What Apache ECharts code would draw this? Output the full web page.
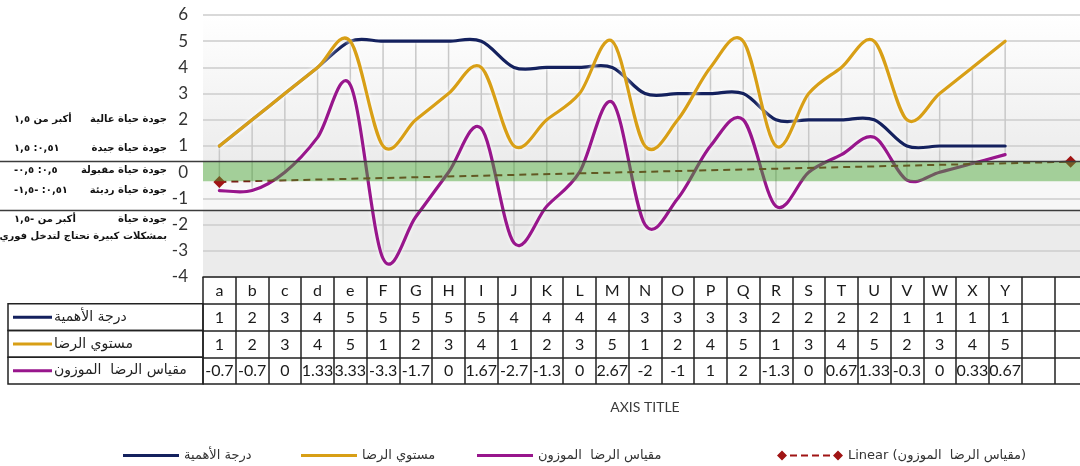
<!DOCTYPE html>
<html>
<head>
<meta charset="utf-8">
<script src="https://cdn.jsdelivr.net/npm/echarts@6/dist/echarts.min.js"></script>
<style>
html,body{margin:0;padding:0;background:#ffffff;}
#chart{width:1080px;height:466px;}
</style>
</head>
<body>
<div id="chart"></div>
<script>
// ---------------- data ----------------
const categories = ['a','b','c','d','e','F','G','H','I','J','K','L','M','N','O','P','Q','R','S','T','U','V','W','X','Y','',''];
const importance = [1,2,3,4,5,5,5,5,5,4,4,4,4,3,3,3,3,2,2,2,2,1,1,1,1];
const satisfaction = [1,2,3,4,5,1,2,3,4,1,2,3,5,1,2,4,5,1,3,4,5,2,3,4,5];
const weighted = [-0.7,-0.7,0,1.33,3.33,-3.3,-1.7,0,1.67,-2.7,-1.3,0,2.67,-2,-1,1,2,-1.3,0,0.67,1.33,-0.3,0,0.33,0.67];
const trendIndex = [0, 26];
const trendValue = [-0.37, 0.40];
const seriesNames = ['درجة الأهمية', 'مستوي الرضا', 'مقياس الرضا  الموزون', 'Linear (مقياس الرضا  الموزون)'];
const yMin = -4, yMax = 6, yStep = 1;
const bandTop = 0.41, bandBottom = -0.35, lowerLine = -1.45;
const qualityLabels = [
  {y: 2, name: 'جودة حياة عالية', range: 'أكبر من ١,٥'},
  {y: 0.9, name: 'جودة حياة جيدة', range: '٠,٥١: ١,٥'},
  {y: 0.08, name: 'جودة حياة مقبولة', range: '-٠,٥: ٠,٥'},
  {y: -0.7, name: 'جودة حياة رديئة', range: '-٠,٥١: -١,٥'},
  {y: -1.8, name: 'جودة حياة', range: 'أكبر من -١,٥'}
];
const qualityNote = 'بمشكلات كبيرة تحتاج لتدخل فوري';
const axisTitle = 'AXIS TITLE';

// ---------------- styles ----------------
const colors = ['#14215e', '#d89f16', '#98168c', '#7c1212'];
const latin = 'Lato, "Open Sans", "DejaVu Sans", sans-serif';
const arabic = '"DejaVu Sans", "Noto Sans", sans-serif';
const gridLeft = 203, gridTop = 15, gridW = 884, gridH = 262;
const rowH = 26.75;
const trendIcon = 'path://M0,5L5,0L10,5L5,10Z M13,4h7v2h-7Z M24,4h7v2h-7Z M35,4h7v2h-7Z M46,4h7v2h-7Z M56,5L61,0L66,5L61,10Z';

const chart = echarts.init(document.getElementById('chart'), null, {renderer: 'canvas'});

function pad(arr){ const a = arr.map(v => String(v)); while (a.length < categories.length) a.push(''); return a; }

function tableAxis(data, idx, showLabel) {
  return {
    type: 'category', gridIndex: 0, position: 'bottom', data: data,
    offset: idx * rowH, boundaryGap: true,
    axisLine: {show: true, onZero: false, lineStyle: {color: '#222', width: 1.5}},
    axisTick: {show: showLabel, interval: 0, length: rowH, inside: false, lineStyle: {color: '#222', width: 1.5}},
    axisLabel: {show: showLabel, interval: 0, margin: 6, fontSize: 16, color: '#1a1a1a', fontFamily: latin, hideOverlap: false},
    splitLine: {show: false}
  };
}

// Excel-like smoothed curve (Catmull-Rom / Bezier) through the data points, positioned by the axes
function smoothCurve(values, color) {
  return function (params, api) {
    if (params.dataIndex !== 0) return null;
    const pts = values.map((v, i) => api.coord([i, v]));
    let d = 'M' + pts[0][0] + ' ' + pts[0][1];
    for (let i = 0; i < pts.length - 1; i++) {
      const p0 = pts[Math.max(i - 1, 0)], p1 = pts[i], p2 = pts[i + 1], p3 = pts[Math.min(i + 2, pts.length - 1)];
      const c1x = p1[0] + (p2[0] - p0[0]) / 6, c1y = p1[1] + (p2[1] - p0[1]) / 6;
      const c2x = p2[0] - (p3[0] - p1[0]) / 6, c2y = p2[1] - (p3[1] - p1[1]) / 6;
      d += ' C' + c1x + ' ' + c1y + ' ' + c2x + ' ' + c2y + ' ' + p2[0] + ' ' + p2[1];
    }
    return {
      type: 'path', shape: {pathData: d},
      style: {fill: null, stroke: color, lineWidth: 3.2, lineJoin: 'round', lineCap: 'round',
              shadowColor: 'rgba(255,255,255,1)', shadowBlur: 4}
    };
  };
}

const hiLo = importance.map((v, i) => [i, Math.max(v, satisfaction[i], weighted[i]), Math.min(v, satisfaction[i], weighted[i])]);

const splitColors = [];
for (let v = yMin; v <= yMax; v += yStep) splitColors.push(v === 0 ? 'rgba(0,0,0,0)' : '#cdcdcd');

function curveSeries(idx, values, z, extra) {
  return Object.assign({
    type: 'custom', name: seriesNames[idx], z: z, silent: true,
    data: values.map((v, i) => [i, v]), encode: {x: 0, y: 1},
    itemStyle: {color: colors[idx]},
    renderItem: smoothCurve(values, colors[idx])
  }, extra || {});
}

const option = {
  animation: false,
  backgroundColor: '#ffffff',
  grid: {left: gridLeft, top: gridTop, width: gridW, height: gridH, containLabel: false, outerBoundsMode: 'none'},
  xAxis: [
    tableAxis(categories, 0, true),
    tableAxis(pad(importance), 1, true),
    tableAxis(pad(satisfaction), 2, true),
    tableAxis(pad(weighted), 3, true),
    Object.assign(tableAxis(pad([]), 4, false), {
      name: axisTitle, nameLocation: 'middle', nameGap: 16,
      nameTextStyle: {fontSize: 14, color: '#3a3a3a', fontFamily: latin}
    })
  ],
  yAxis: {
    type: 'value', min: yMin, max: yMax, interval: yStep,
    axisLine: {show: false}, axisTick: {show: false},
    axisLabel: {fontSize: 17, color: '#333', margin: 15, fontFamily: latin},
    splitLine: {show: true, lineStyle: {color: splitColors, width: 1.5}}
  },
  legend: seriesNames.map((n, i) => ({
    data: [{name: n, icon: i < 3 ? 'rect' : trendIcon}], left: [118, 296, 472, 772][i], top: 444,
    itemWidth: i < 3 ? 56 : 66, itemHeight: i < 3 ? 3 : 10, itemGap: 0,
    textStyle: {fontSize: 13, color: '#333', fontFamily: arabic}
  })),
  series: [
    {
      type: 'custom', name: 'hilo', z: 1, silent: true,
      data: hiLo, encode: {x: 0, y: [1, 2]},
      renderItem: function (params, api) {
        const i = api.value(0);
        const p1 = api.coord([i, api.value(1)]);
        const p2 = api.coord([i, api.value(2)]);
        return {type: 'line', shape: {x1: p1[0], y1: p1[1], x2: p2[0], y2: p2[1]},
                style: {stroke: '#c8c8c8', lineWidth: 1.5}};
      },
      markArea: {
        silent: true, z: -1,
        data: [
          [{yAxis: yMax, itemStyle: {color: new echarts.graphic.LinearGradient(0, 0, 0, 1, [
              {offset: 0, color: '#ffffff'}, {offset: 1, color: '#ececec'}])}}, {yAxis: bandTop}],
          [{yAxis: bandBottom, itemStyle: {color: '#f7f7f7'}}, {yAxis: lowerLine}],
          [{yAxis: lowerLine, itemStyle: {color: '#ebebeb'}}, {yAxis: yMin}]
        ]
      }
    },
    curveSeries(0, importance, 3),
    curveSeries(1, satisfaction, 4),
    curveSeries(2, weighted, 5, {
      markArea: {
        silent: true, z: 8,
        itemStyle: {color: 'rgba(72,160,52,0.5)'},
        data: [[{yAxis: bandTop}, {yAxis: bandBottom}]]
      }
    }),
    {
      type: 'line', name: seriesNames[3], data: trendIndex.map((x, i) => [x, trendValue[i]]),
      symbol: 'diamond', symbolSize: 12, showSymbol: true, z: 6,
      lineStyle: {color: colors[3], width: 2, type: [7, 5]}, itemStyle: {color: '#a01414'}
    }
  ]
};
chart.setOption(option);

// ---------- decorations positioned through the chart's own scales ----------
const yPix = v => chart.convertToPixel({yAxisIndex: 0}, v);
const axisBottom = gridTop + gridH;
const graphics = [];
[bandTop, lowerLine].forEach(v => {
  const y = Math.round(yPix(v)) + 0.5;
  graphics.push({type: 'line', z: 20, shape: {x1: 0, y1: y, x2: 1080, y2: y}, style: {stroke: '#3c3c3c', lineWidth: 1.5}});
});
qualityLabels.forEach(q => {
  const y = yPix(q.y);
  graphics.push({type: 'text', z: 20, x: 167, y: y, style: {text: q.name, align: 'right', verticalAlign: 'middle', font: 'bold 10px ' + arabic, fill: '#111'}});
  graphics.push({type: 'text', z: 20, x: 14, y: y, style: {text: q.range, align: 'left', verticalAlign: 'middle', font: 'bold 10px ' + arabic, fill: '#111'}});
});
graphics.push({type: 'text', z: 20, x: 167, y: yPix(-2.45), style: {text: qualityNote, align: 'right', verticalAlign: 'middle', font: 'bold 10px ' + arabic, fill: '#111'}});
// left legend cells of the data table
for (let r = 0; r < 3; r++) {
  const top = axisBottom + rowH * (r + 1);
  graphics.push({type: 'rect', z: 20, shape: {x: 8, y: top, width: gridLeft - 8, height: rowH}, style: {fill: 'none', stroke: '#222', lineWidth: 1.5}});
  graphics.push({type: 'line', z: 20, shape: {x1: 13, y1: top + rowH / 2, x2: 52, y2: top + rowH / 2}, style: {stroke: colors[r], lineWidth: 3}});
  graphics.push({type: 'text', z: 20, x: 54, y: top + rowH / 2, style: {text: seriesNames[r], align: 'left', verticalAlign: 'middle', font: '14px ' + arabic, fill: '#222'}});
}
chart.setOption({graphic: graphics});
</script>
</body>
</html>
